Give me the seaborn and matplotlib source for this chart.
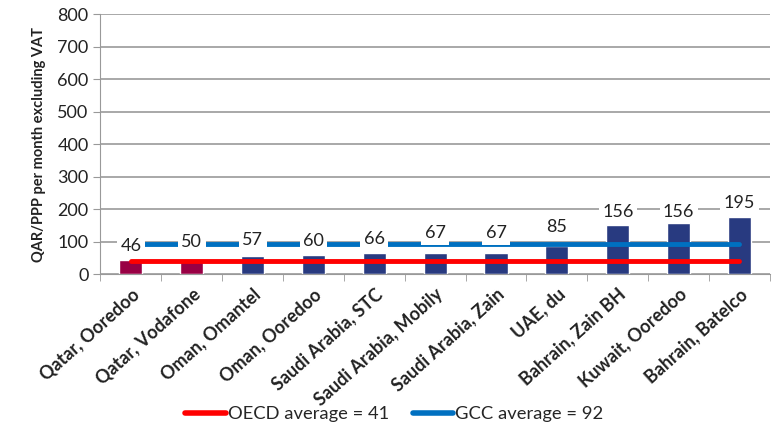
import matplotlib
matplotlib.use("Agg")
import matplotlib.pyplot as plt
import seaborn as sns
from matplotlib.lines import Line2D

# datos
categorias = ["Qatar, Ooredoo", "Qatar, Vodafone", "Oman, Omantel", "Oman, Ooredoo",
              "Saudi Arabia, STC", "Saudi Arabia, Mobily", "Saudi Arabia, Zain",
              "UAE, du", "Bahrain, Zain BH", "Kuwait, Ooredoo", "Bahrain, Batelco"]
alturas = [43, 48, 57, 60, 65, 65, 65, 86, 151, 157, 177]
etiquetas = [46, 50, 57, 60, 66, 67, 67, 85, 156, 156, 195]
pos_etiquetas = [86, 98, 107, 101, 108, 126, 126, 145, 192, 192, 218]
colores = ["#990044", "#990044"] + ["#283A80"] * 9
oecd = 41
gcc = 92

sns.set_style("white")
plt.rcParams["font.family"] = ["Lato", "DejaVu Sans"]

fig = plt.figure(figsize=(7.73, 4.26), dpi=100)
ax = fig.add_axes([0.130, 0.356, 0.866, 0.611])

sns.barplot(x=categorias, y=alturas, hue=categorias, palette=colores,
            legend=False, width=0.38, ax=ax, zorder=2, saturation=1)

n = len(categorias)
ax.plot([0, n - 1], [oecd, oecd], color="#FF0000", lw=3.5, zorder=3, solid_capstyle="round")
ax.plot([0, n - 1], [gcc, gcc], color="#0070C0", lw=3.5, zorder=3, solid_capstyle="round")

for i, (t, yv) in enumerate(zip(etiquetas, pos_etiquetas)):
    ax.text(i, yv, str(t), ha="center", va="center", fontsize=13, color="#222222",
            zorder=4, bbox=dict(facecolor="white", edgecolor="none", pad=2.5))

ax.set_ylim(0, 800)
ax.set_xlim(-0.5, n - 0.5)
ax.set_yticks(range(0, 801, 100))
ax.yaxis.grid(True, color="#999999", lw=1.2, zorder=0)
ax.set_axisbelow(True)
for s in ["top", "right"]:
    ax.spines[s].set_visible(False)
ax.spines["left"].set_color("#999999")
ax.spines["bottom"].set_color("#999999")
ax.tick_params(axis="y", labelsize=13, colors="#222222", length=5, color="#999999",
               direction="out", left=True)
ax.set_xticks([i + 0.5 for i in range(-1, n)], minor=True)
ax.set_xticks(range(n))
ax.set_xticklabels(categorias, rotation=42, ha="right", rotation_mode="anchor",
                   fontsize=13, fontweight="bold", color="#222222")
ax.tick_params(axis="x", which="major", length=0, pad=8)
ax.tick_params(axis="x", which="minor", length=5, color="#999999", bottom=True,
               direction="out")
ax.set_ylabel("QAR/PPP per month excluding VAT", fontsize=10.5, fontweight="bold",
              color="#222222", labelpad=8)

handles = [Line2D([0], [0], color="#FF0000", lw=4),
           Line2D([0], [0], color="#0070C0", lw=4)]
fig.legend(handles, ["OECD average = 41", "GCC average = 92"], loc="lower center",
           bbox_to_anchor=(0.51, -0.03), ncol=2, frameon=False, fontsize=13.2,
           handlelength=2.2, handletextpad=0.1, columnspacing=1.3)

fig.savefig("out.png", dpi=100)
